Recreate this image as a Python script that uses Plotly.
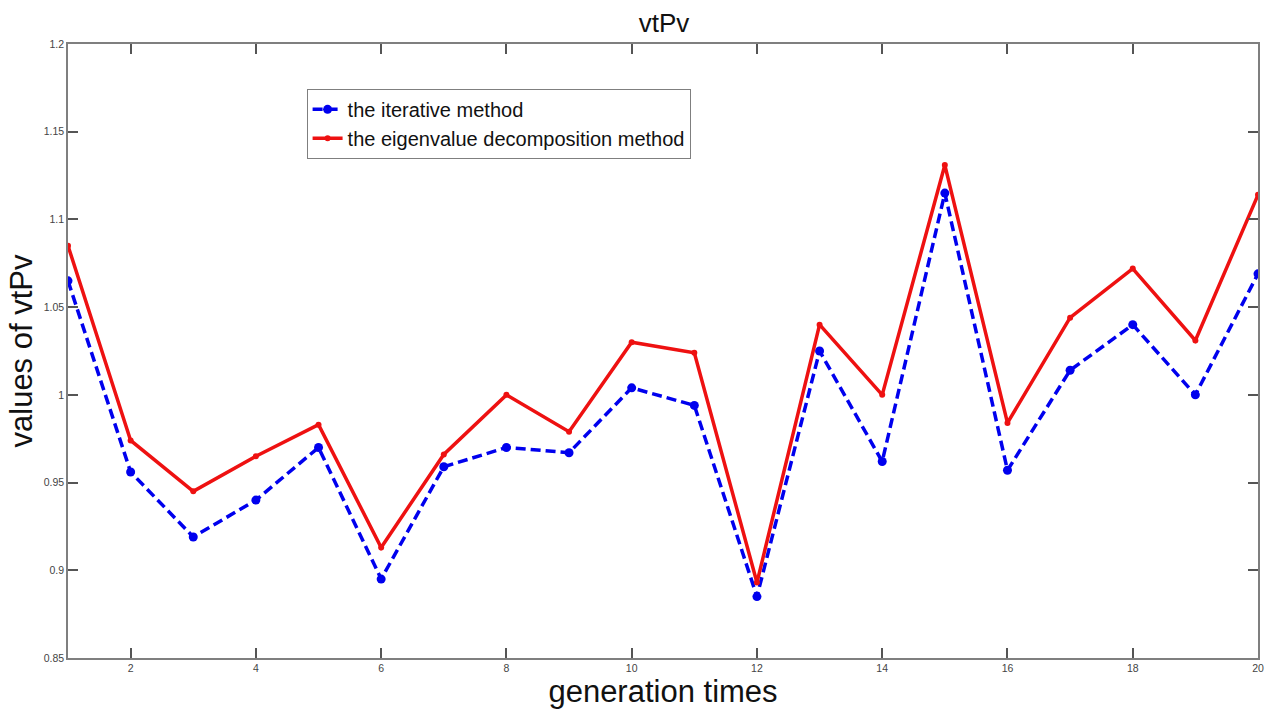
import plotly.graph_objects as go

generations = list(range(1, 21))
iterative = [1.065, 0.956, 0.919, 0.940, 0.970, 0.895, 0.959, 0.970, 0.967, 1.004,
             0.994, 0.885, 1.025, 0.962, 1.115, 0.957, 1.014, 1.040, 1.000, 1.069]
eigen = [1.085, 0.974, 0.945, 0.965, 0.983, 0.913, 0.966, 1.000, 0.979, 1.030,
         1.024, 0.893, 1.040, 1.000, 1.131, 0.984, 1.044, 1.072, 1.031, 1.114]
x_ticks = [2, 4, 6, 8, 10, 12, 14, 16, 18, 20]
y_ticks = [0.85, 0.9, 0.95, 1.0, 1.05, 1.1, 1.15, 1.2]
y_ticktext = ["0.85", "0.9", "0.95", "1", "1.05", "1.1", "1.15", "1.2"]

FONT = "Liberation Sans, Arial"

fig = go.Figure()
fig.add_trace(go.Scatter(
    x=generations, y=iterative, mode="lines+markers", name="the iterative method",
    line=dict(color="#0000ee", width=3.5, dash="10px,5px"),
    marker=dict(symbol="circle", size=9, color="#0000ee"),
))
fig.add_trace(go.Scatter(
    x=generations, y=eigen, mode="lines+markers", name="the eigenvalue decomposition method",
    line=dict(color="#ee1111", width=3.5),
    marker=dict(symbol="circle", size=6, color="#ee1111"),
))

axis_common = dict(
    showline=True, linecolor="#7f7f7f", linewidth=1.5, mirror="ticks",
    ticks="inside", ticklen=10, tickcolor="#555555", tickwidth=1.5,
    showgrid=False, zeroline=False,
    tickfont=dict(family=FONT, size=10.5, color="#444444"),
)

fig.update_layout(
    width=1271, height=710,
    margin=dict(l=68, r=7, t=44, b=52),
    paper_bgcolor="white", plot_bgcolor="white",
    title=dict(text="vtPv", x=0.5225, xanchor="center", y=0.968, yanchor="middle",
               font=dict(family=FONT, size=26, color="#111111")),
    xaxis=dict(range=[1, 20], tickvals=x_ticks,
               title=dict(text="generation times", standoff=0,
                          font=dict(family=FONT, size=31, color="#111111")),
               **axis_common),
    yaxis=dict(range=[0.85, 1.2], tickvals=y_ticks, ticktext=y_ticktext,
               title=dict(text="values of vtPv", standoff=2,
                          font=dict(family=FONT, size=31, color="#111111")),
               **axis_common),
    legend=dict(x=0.2005, y=0.927, xanchor="left", yanchor="top",
                bgcolor="white", bordercolor="#7f7f7f", borderwidth=1,
                font=dict(family=FONT, size=20, color="#111111"),
                itemwidth=30, tracegroupgap=0),
    showlegend=True,
)

fig.write_html("out.html", config={"displayModeBar": False},
               post_script="document.body.style.margin='0px';")
